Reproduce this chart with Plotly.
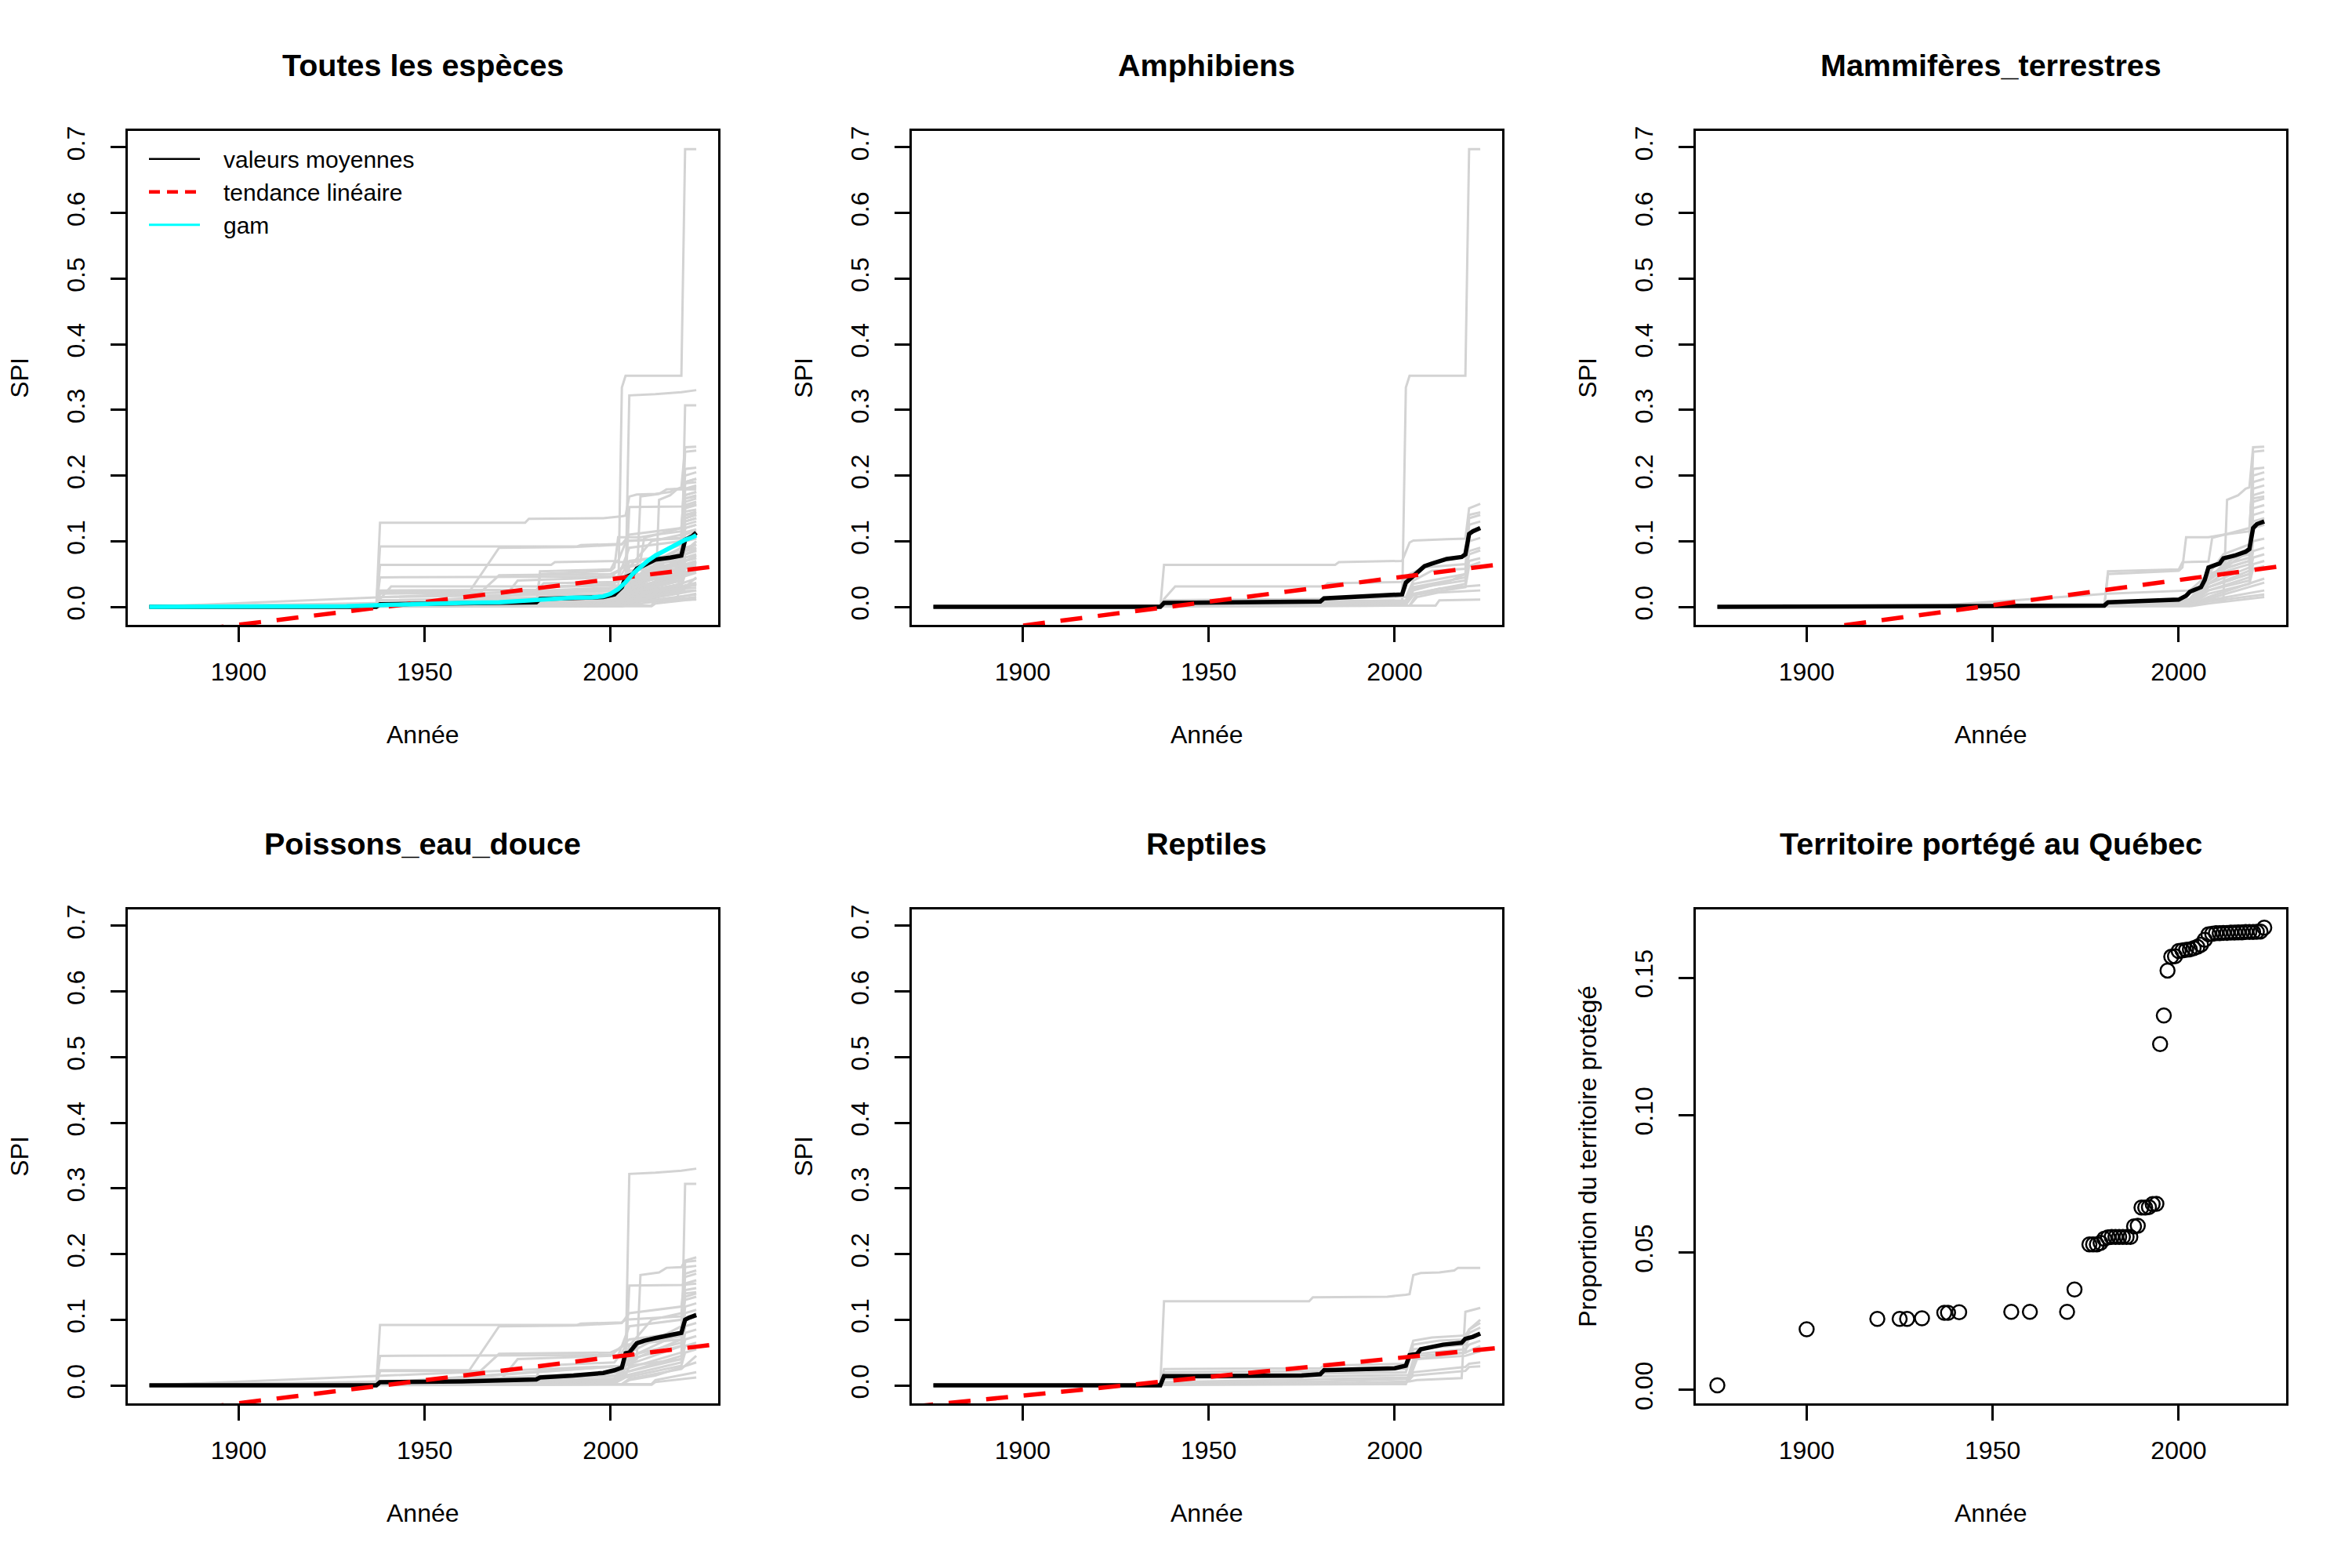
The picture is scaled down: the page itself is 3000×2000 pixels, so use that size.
import plotly.graph_objects as go

# ---------------------------------------------------------------- data
YEAR_FIRST, YEAR_LAST = 1876, 2023

# Grey per-species SPI trajectories, knots (year, SPI)
AMPH_SPECIES = [
    [(1876, 0), (1937, 0), (1938, 0.064), (1984, 0.064), (1985, 0.068), (2002, 0.070), (2004, 0.098), (2005, 0.101), (2014, 0.103), (2019, 0.104), (2020, 0.150), (2023, 0.157)],
    [(1876, 0), (2002, 0.003), (2003, 0.334), (2004, 0.352), (2019, 0.352), (2020, 0.697), (2023, 0.697)],
    [(1876, 0), (1937, 0), (1938, 0.012), (1941, 0.031), (1981, 0.031), (1982, 0.036), (2002, 0.038), (2004, 0.050), (2008, 0.060), (2019, 0.065), (2020, 0.085), (2023, 0.090)],
    [(1876, 0), (1937, 0), (1938, 0.010), (1981, 0.012), (2003, 0.015), (2005, 0.040), (2010, 0.055), (2019, 0.058), (2020, 0.140), (2023, 0.144)],
    [(1876, 0), (1937, 0), (1938, 0.005), (1981, 0.008), (2003, 0.010), (2005, 0.035), (2019, 0.050), (2020, 0.135), (2023, 0.140)],
    [(1876, 0), (1980, 0.002), (1981, 0.006), (2003, 0.008), (2005, 0.030), (2019, 0.045), (2020, 0.125), (2023, 0.130)],
    [(1876, 0), (1937, 0), (1938, 0.003), (2003, 0.006), (2005, 0.025), (2015, 0.040), (2019, 0.050), (2020, 0.080), (2023, 0.086)],
    [(1876, 0), (2003, 0.004), (2005, 0.020), (2019, 0.035), (2020, 0.070), (2023, 0.074)],
    [(1876, 0), (2003, 0.003), (2005, 0.018), (2019, 0.030), (2020, 0.062), (2023, 0.068)],
    [(1876, 0), (2004, 0.002), (2006, 0.020), (2012, 0.028), (2023, 0.033)],
    [(1876, 0), (2004, 0.002), (2006, 0.015), (2012, 0.022), (2023, 0.025)],
    [(1876, 0), (2011, 0.002), (2012, 0.010), (2023, 0.011)],
    [(1876, 0), (1981, 0.004), (2003, 0.006), (2005, 0.028), (2019, 0.040), (2020, 0.100), (2023, 0.105)],
]

MAMM_SPECIES = [
    [(1876, 0), (1980, 0.001), (1981, 0.054), (2000, 0.057), (2001, 0.068), (2008, 0.069), (2009, 0.105), (2019, 0.120), (2020, 0.200), (2023, 0.205)],
    [(1876, 0), (1980, 0.001), (1981, 0.050), (2000, 0.055), (2001, 0.060), (2002, 0.106), (2008, 0.106), (2012, 0.110), (2019, 0.115), (2020, 0.210), (2023, 0.212)],
    [(1876, 0), (1981, 0.004), (2012, 0.010), (2013, 0.163), (2016, 0.170), (2018, 0.180), (2019, 0.182), (2020, 0.243), (2023, 0.244)],
    [(1876, 0), (1981, 0.005), (2003, 0.012), (2008, 0.050), (2012, 0.080), (2019, 0.095), (2020, 0.236), (2023, 0.238)],
    [(1876, 0), (1981, 0.004), (2003, 0.010), (2008, 0.045), (2015, 0.075), (2019, 0.090), (2020, 0.190), (2023, 0.195)],
    [(1876, 0), (1981, 0.004), (2003, 0.010), (2008, 0.040), (2015, 0.070), (2019, 0.085), (2020, 0.180), (2023, 0.185)],
    [(1876, 0), (1981, 0.003), (2003, 0.009), (2008, 0.040), (2013, 0.072), (2019, 0.080), (2020, 0.170), (2023, 0.175)],
    [(1876, 0), (1981, 0.003), (2003, 0.008), (2007, 0.035), (2013, 0.065), (2019, 0.075), (2020, 0.160), (2023, 0.165)],
    [(1876, 0), (1981, 0.003), (2003, 0.008), (2008, 0.040), (2013, 0.060), (2019, 0.070), (2020, 0.150), (2023, 0.155)],
    [(1876, 0), (1981, 0.002), (2003, 0.006), (2008, 0.035), (2013, 0.055), (2019, 0.065), (2020, 0.140), (2023, 0.145)],
    [(1876, 0), (1981, 0.002), (2003, 0.006), (2008, 0.035), (2019, 0.060), (2020, 0.130), (2023, 0.135)],
    [(1876, 0), (1981, 0.002), (2003, 0.006), (2008, 0.030), (2019, 0.055), (2020, 0.120), (2023, 0.125)],
    [(1876, 0), (1981, 0.002), (2003, 0.005), (2008, 0.030), (2019, 0.050), (2020, 0.100), (2023, 0.104)],
    [(1876, 0), (1981, 0.002), (2003, 0.005), (2008, 0.030), (2019, 0.050), (2020, 0.085), (2023, 0.090)],
    [(1876, 0), (1981, 0.002), (2003, 0.005), (2008, 0.025), (2019, 0.045), (2020, 0.075), (2023, 0.080)],
    [(1876, 0), (1981, 0.002), (2003, 0.004), (2008, 0.025), (2019, 0.040), (2020, 0.065), (2023, 0.070)],
    [(1876, 0), (1981, 0.002), (2003, 0.004), (2008, 0.020), (2019, 0.035), (2020, 0.058), (2023, 0.062)],
    [(1876, 0), (1981, 0.001), (2003, 0.003), (2008, 0.015), (2023, 0.043)],
    [(1876, 0), (1981, 0.001), (2003, 0.003), (2008, 0.012), (2023, 0.037)],
    [(1876, 0), (2003, 0.002), (2008, 0.010), (2023, 0.025)],
    [(1876, 0), (2003, 0.002), (2008, 0.008), (2023, 0.019)],
    [(1876, 0), (2003, 0.001), (2008, 0.005), (2023, 0.015)],
    [(1876, 0), (1937, 0), (1938, 0.003), (1981, 0.020), (2003, 0.025), (2008, 0.050), (2019, 0.070), (2020, 0.165), (2023, 0.168)],
]

POIS_SPECIES = [
    [(1876, 0), (1937, 0), (1938, 0.092), (1991, 0.092), (1992, 0.094), (2003, 0.096), (2004, 0.100), (2019, 0.105), (2020, 0.130), (2023, 0.135)],
    [(1876, 0), (1937, 0), (1938, 0.023), (1962, 0.023), (1970, 0.090), (1990, 0.091), (2003, 0.095), (2005, 0.110), (2019, 0.120), (2020, 0.170), (2023, 0.175)],
    [(1876, 0), (1937, 0), (1938, 0.045), (2002, 0.046), (2003, 0.060), (2005, 0.070), (2019, 0.080), (2020, 0.110), (2023, 0.115)],
    [(1876, 0), (1937, 0), (1938, 0.022), (1965, 0.022), (1970, 0.048), (2000, 0.050), (2002, 0.055), (2004, 0.062), (2019, 0.070), (2020, 0.100), (2023, 0.105)],
    [(1876, 0), (2004, 0.030), (2005, 0.322), (2012, 0.324), (2019, 0.327), (2023, 0.330)],
    [(1876, 0), (1937, 0), (1938, 0.004), (2004, 0.015), (2005, 0.030), (2019, 0.040), (2020, 0.307), (2023, 0.307)],
    [(1876, 0), (1937, 0), (1938, 0.004), (2004, 0.030), (2007, 0.040), (2008, 0.168), (2013, 0.172), (2015, 0.179), (2019, 0.180), (2020, 0.190), (2023, 0.195)],
    [(1876, 0), (1937, 0), (1938, 0.003), (2004, 0.030), (2005, 0.152), (2019, 0.153), (2023, 0.155)],
    [(1876, 0), (1937, 0), (1938, 0.003), (2003, 0.020), (2005, 0.040), (2019, 0.060), (2020, 0.188), (2023, 0.190)],
    [(1876, 0), (1937, 0), (1938, 0.003), (2003, 0.020), (2005, 0.045), (2019, 0.065), (2020, 0.180), (2023, 0.182)],
    [(1876, 0), (1937, 0), (1938, 0.002), (2003, 0.015), (2005, 0.060), (2011, 0.100), (2019, 0.110), (2020, 0.165), (2023, 0.170)],
    [(1876, 0), (1937, 0), (1938, 0.002), (2003, 0.015), (2005, 0.050), (2019, 0.090), (2020, 0.155), (2023, 0.160)],
    [(1876, 0), (1937, 0), (1938, 0.002), (2001, 0.010), (2004, 0.040), (2019, 0.080), (2020, 0.145), (2023, 0.148)],
    [(1876, 0), (1937, 0), (1938, 0.002), (2001, 0.010), (2004, 0.035), (2019, 0.070), (2020, 0.135), (2023, 0.140)],
    [(1876, 0), (1937, 0), (1938, 0.002), (2001, 0.010), (2004, 0.030), (2019, 0.060), (2020, 0.120), (2023, 0.125)],
    [(1876, 0), (2001, 0.008), (2004, 0.025), (2019, 0.050), (2020, 0.090), (2023, 0.095)],
    [(1876, 0), (2001, 0.006), (2004, 0.020), (2019, 0.045), (2020, 0.080), (2023, 0.085)],
    [(1876, 0), (2001, 0.005), (2004, 0.020), (2019, 0.040), (2020, 0.070), (2023, 0.075)],
    [(1876, 0), (2001, 0.004), (2004, 0.015), (2019, 0.035), (2020, 0.060), (2023, 0.065)],
    [(1876, 0), (2001, 0.003), (2004, 0.012), (2019, 0.030), (2020, 0.050), (2023, 0.055)],
    [(1876, 0), (2003, 0.002), (2005, 0.010), (2019, 0.025), (2023, 0.045)],
    [(1876, 0), (2003, 0.002), (2005, 0.008), (2012, 0.015), (2023, 0.035)],
    [(1876, 0), (2011, 0.002), (2012, 0.008), (2023, 0.020)],
    [(1876, 0), (2011, 0.001), (2012, 0.005), (2023, 0.012)],
    [(1876, 0), (1980, 0.010), (1981, 0.030), (2001, 0.035), (2003, 0.050), (2004, 0.060), (2019, 0.075), (2020, 0.100), (2023, 0.110)],
    [(1876, 0), (1970, 0.005), (1975, 0.040), (2000, 0.045), (2003, 0.060), (2005, 0.090), (2019, 0.100), (2020, 0.140), (2023, 0.142)],
]

REPT_SPECIES = [
    [(1876, 0), (1937, 0), (1938, 0.128), (1977, 0.128), (1978, 0.134), (1998, 0.135), (2003, 0.138), (2004, 0.139), (2005, 0.168), (2007, 0.171), (2012, 0.172), (2016, 0.175), (2017, 0.179), (2023, 0.179)],
    [(1876, 0), (1937, 0), (1938, 0.025), (1980, 0.026), (1981, 0.030), (2003, 0.033), (2005, 0.068), (2010, 0.073), (2019, 0.076), (2020, 0.085), (2023, 0.095)],
    [(1876, 0), (1937, 0), (1938, 0.020), (1981, 0.022), (2003, 0.025), (2005, 0.062), (2012, 0.068), (2019, 0.070), (2020, 0.080), (2023, 0.088)],
    [(1876, 0), (1937, 0), (1938, 0.015), (1981, 0.018), (2003, 0.020), (2005, 0.055), (2019, 0.062), (2020, 0.070), (2023, 0.078)],
    [(1876, 0), (1937, 0), (1938, 0.010), (1981, 0.014), (2004, 0.016), (2006, 0.048), (2019, 0.055), (2020, 0.062), (2023, 0.068)],
    [(1876, 0), (1937, 0), (1938, 0.005), (1981, 0.010), (2004, 0.012), (2006, 0.045), (2019, 0.050), (2023, 0.060)],
    [(1876, 0), (1937, 0), (1938, 0.003), (1981, 0.006), (2004, 0.010), (2006, 0.040), (2019, 0.045), (2023, 0.052)],
    [(1876, 0), (1981, 0.003), (2004, 0.006), (2006, 0.008), (2018, 0.011), (2019, 0.112), (2023, 0.118)],
    [(1876, 0), (1981, 0.002), (2003, 0.004), (2005, 0.020), (2019, 0.028), (2020, 0.033), (2023, 0.035)],
    [(1876, 0), (1981, 0.002), (2003, 0.003), (2005, 0.015), (2019, 0.022), (2020, 0.028), (2023, 0.029)],
    [(1876, 0), (2003, 0.002), (2005, 0.040), (2019, 0.050), (2020, 0.085), (2023, 0.100)],
]

# Mean SPI per group (black line), knots (year, SPI)
MEAN_TOUT = [(1876, 0), (1937, 0), (1938, 0.004), (1980, 0.007), (1981, 0.012), (1998, 0.015), (2001, 0.019), (2003, 0.030), (2004, 0.045), (2006, 0.050), (2007, 0.058), (2009, 0.064), (2012, 0.072), (2016, 0.075), (2019, 0.078), (2020, 0.102), (2022, 0.108), (2023, 0.113)]
MEAN_AMPH = [(1876, 0), (1937, 0), (1938, 0.006), (1980, 0.008), (1981, 0.013), (1998, 0.0175), (2002, 0.019), (2003, 0.037), (2004, 0.042), (2006, 0.050), (2008, 0.062), (2010, 0.066), (2012, 0.070), (2014, 0.073), (2018, 0.076), (2019, 0.080), (2020, 0.111), (2021, 0.115), (2023, 0.120)]
MEAN_MAMM = [(1876, 0), (1937, 0), (1938, 0.001), (1980, 0.002), (1981, 0.007), (2000, 0.011), (2002, 0.017), (2003, 0.023), (2005, 0.027), (2006, 0.030), (2007, 0.041), (2008, 0.060), (2010, 0.064), (2011, 0.066), (2012, 0.074), (2015, 0.078), (2018, 0.084), (2019, 0.088), (2020, 0.120), (2021, 0.126), (2023, 0.130)]
MEAN_POIS = [(1876, 0), (1937, 0), (1938, 0.005), (1960, 0.006), (1980, 0.009), (1981, 0.012), (1990, 0.015), (1998, 0.019), (2001, 0.023), (2003, 0.027), (2004, 0.049), (2005, 0.050), (2007, 0.064), (2009, 0.068), (2012, 0.072), (2018, 0.078), (2019, 0.080), (2020, 0.100), (2021, 0.103), (2023, 0.107)]
MEAN_REPT = [(1876, 0), (1937, 0), (1938, 0.014), (1975, 0.015), (1980, 0.017), (1981, 0.023), (2000, 0.026), (2003, 0.030), (2004, 0.046), (2006, 0.048), (2007, 0.055), (2010, 0.058), (2013, 0.062), (2018, 0.065), (2019, 0.071), (2021, 0.074), (2023, 0.079)]

# GAM smooth for all species (cyan)
GAM_YEARS = [1876, 1900, 1920, 1929, 1940, 1950, 1960, 1970, 1975, 1980, 1985, 1990, 1995, 1998, 2000, 2002, 2004, 2006, 2008, 2010, 2012, 2014, 2016, 2018, 2020, 2022, 2023]
GAM_VALUES = [0.0, 0.0, 0.0005, 0.001, 0.003, 0.005, 0.006, 0.007, 0.009, 0.011, 0.013, 0.014, 0.0145, 0.016, 0.020, 0.027, 0.0375, 0.0505, 0.0605, 0.0704, 0.078, 0.084, 0.090, 0.096, 0.102, 0.106, 0.109]

# Linear trend lines (red dashed), end points (year, SPI)
TREND_X = [1860, 2040]
TREND_TOUT = [-0.0550, 0.0699]
TREND_AMPH = [-0.0576, 0.0733]
TREND_MAMM = [-0.0664, 0.0715]
TREND_POIS = [-0.0552, 0.0708]
TREND_REPT = [-0.0383, 0.0639]

# Protected territory in Québec
QC_YEARS = [1876, 1900, 1919, 1925, 1927, 1931, 1937, 1938, 1941, 1955, 1960, 1970, 1972,
            1976, 1977, 1978, 1979, 1980, 1981, 1982, 1983, 1984, 1985, 1986, 1987, 1988, 1989,
            1990, 1991, 1992, 1993, 1994, 1995, 1996, 1997, 1998, 1999, 2000, 2001, 2002, 2003,
            2004, 2005, 2006, 2007, 2008, 2009, 2010, 2011, 2012, 2013, 2014, 2015, 2016, 2017,
            2018, 2019, 2020, 2021, 2022, 2023]
QC_PROP = [0.0016, 0.0220, 0.0258, 0.0258, 0.0258, 0.0260, 0.0280, 0.0280, 0.0282, 0.0284, 0.0284, 0.0284, 0.0365,
           0.0529, 0.0529, 0.0529, 0.0535, 0.0550, 0.0555, 0.0556, 0.0556, 0.0556, 0.0556, 0.0556, 0.0556, 0.0595, 0.0597,
           0.0663, 0.0663, 0.0665, 0.0676, 0.0677, 0.1258, 0.1362, 0.1526, 0.1576, 0.1578, 0.1597, 0.1599, 0.1601, 0.1603,
           0.1607, 0.1612, 0.1620, 0.1638, 0.1658, 0.1660, 0.1662, 0.1662, 0.1663, 0.1663, 0.1664, 0.1664, 0.1665, 0.1665,
           0.1666, 0.1666, 0.1666, 0.1667, 0.1668, 0.1682]

TITLES = ["Toutes les espèces", "Amphibiens", "Mammifères_terrestres",
          "Poissons_eau_douce", "Reptiles", "Territoire portégé au Québec"]
LEGEND_NAMES = ["valeurs moyennes", "tendance linéaire", "gam"]
X_TICKS = [1900, 1950, 2000]
SPI_TICKS = [0.0, 0.1, 0.2, 0.3, 0.4, 0.5, 0.6, 0.7]
SPI_TICKTEXT = ["0.0", "0.1", "0.2", "0.3", "0.4", "0.5", "0.6", "0.7"]
QC_TICKS = [0.0, 0.05, 0.10, 0.15]
QC_TICKTEXT = ["0.00", "0.05", "0.10", "0.15"]

# ---------------------------------------------------------------- styling
FONT = "Liberation Sans, Arial, Helvetica, sans-serif"
FS = 32
W, H = 3000, 2000
CELL = 1000
BOX_L, BOX_R, BOX_T, BOX_B = 162.6, 916.0, 162.0, 797.0
GREY = "#D3D3D3"


def join_lines(lines):
    xs, ys = [], []
    for ln in lines:
        xs += [p[0] for p in ln] + [None]
        ys += [p[1] for p in ln] + [None]
    return xs, ys


def r_range(lo, hi):
    pad = 0.04 * (hi - lo)
    return [lo - pad, hi + pad]


ALL_SPECIES = AMPH_SPECIES + MAMM_SPECIES + POIS_SPECIES + REPT_SPECIES
spi_max = max(p[1] for ln in ALL_SPECIES for p in ln)
X_RANGE = r_range(YEAR_FIRST, YEAR_LAST)
SPI_RANGE = r_range(0.0, spi_max)
QC_RANGE = r_range(min(QC_PROP), max(QC_PROP))

panels = [
    (ALL_SPECIES, MEAN_TOUT, TREND_TOUT),
    (AMPH_SPECIES, MEAN_AMPH, TREND_AMPH),
    (MAMM_SPECIES, MEAN_MAMM, TREND_MAMM),
    (POIS_SPECIES, MEAN_POIS, TREND_POIS),
    (REPT_SPECIES, MEAN_REPT, TREND_REPT),
]

fig = go.Figure()
layout = {}
annotations = []

for i in range(6):
    r, c = divmod(i, 3)
    xa = "x" if i == 0 else f"x{i+1}"
    ya = "y" if i == 0 else f"y{i+1}"
    xdom = [(c * CELL + BOX_L) / W, (c * CELL + BOX_R) / W]
    ydom = [1 - (r * CELL + BOX_B) / H, 1 - (r * CELL + BOX_T) / H]
    axis_common = dict(showgrid=False, zeroline=False, showline=True, mirror=True,
                       linecolor="black", linewidth=2.5, ticks="outside", ticklen=19,
                       tickwidth=2.5, tickcolor="black",
                       tickfont=dict(family=FONT, size=FS, color="black"))
    layout["xaxis" if i == 0 else f"xaxis{i+1}"] = dict(
        axis_common, domain=xdom, anchor=ya, range=X_RANGE,
        tickvals=X_TICKS, ticktext=[str(v) for v in X_TICKS], ticklabelstandoff=10)
    if i < 5:
        yextra = dict(range=SPI_RANGE, tickvals=SPI_TICKS, ticktext=SPI_TICKTEXT)
    else:
        yextra = dict(range=QC_RANGE, tickvals=QC_TICKS, ticktext=QC_TICKTEXT)
    layout["yaxis" if i == 0 else f"yaxis{i+1}"] = dict(
        axis_common, domain=ydom, anchor=xa, tickangle=-90, ticklabelstandoff=20, **yextra)

    cx = (c * CELL + (BOX_L + BOX_R) / 2) / W
    annotations.append(dict(text=f"<b>{TITLES[i]}</b>", x=cx, y=1 - (r * CELL + 78) / H,
                            xref="paper", yref="paper", showarrow=False,
                            xanchor="center", yanchor="middle",
                            font=dict(family=FONT, size=39.5, color="black")))
    annotations.append(dict(text="Année", x=cx, y=1 - (r * CELL + 937.5) / H,
                            xref="paper", yref="paper", showarrow=False,
                            xanchor="center", yanchor="middle",
                            font=dict(family=FONT, size=FS, color="black")))
    ytitle = "SPI" if i < 5 else "Proportion du territoire protégé"
    annotations.append(dict(text=ytitle, x=(c * CELL + 25.5) / W,
                            y=1 - (r * CELL + (BOX_T + BOX_B) / 2) / H,
                            xref="paper", yref="paper", showarrow=False, textangle=-90,
                            xanchor="center", yanchor="middle",
                            font=dict(family=FONT, size=FS, color="black")))

    if i < 5:
        species, mean, trend = panels[i]
        gx, gy = join_lines(species)
        fig.add_trace(go.Scatter(x=gx, y=gy, mode="lines", xaxis=xa, yaxis=ya,
                                 line=dict(color=GREY, width=3), showlegend=False,
                                 connectgaps=False, hoverinfo="skip"))
        fig.add_trace(go.Scatter(x=[p[0] for p in mean], y=[p[1] for p in mean],
                                 mode="lines", xaxis=xa, yaxis=ya,
                                 line=dict(color="black", width=5.5), showlegend=False))
        fig.add_trace(go.Scatter(x=TREND_X, y=trend, mode="lines", xaxis=xa, yaxis=ya,
                                 line=dict(color="red", width=5.5, dash="28px,20px"),
                                 showlegend=False))
        if i == 0:
            fig.add_trace(go.Scatter(x=GAM_YEARS, y=GAM_VALUES, mode="lines",
                                     xaxis=xa, yaxis=ya, line=dict(color="cyan", width=5.5),
                                     showlegend=False))
    else:
        fig.add_trace(go.Scatter(x=QC_YEARS, y=QC_PROP, mode="markers", xaxis=xa, yaxis=ya,
                                 marker=dict(symbol="circle-open", size=18, color="black",
                                             line=dict(width=2.5, color="black")),
                                 showlegend=False))

# legend entries
PAD = "\u00a0\u00a0\u00a0"
fig.add_trace(go.Scatter(x=[None], y=[None], mode="lines", name=PAD + LEGEND_NAMES[0],
                         line=dict(color="black", width=2.5)))
fig.add_trace(go.Scatter(x=[None], y=[None], mode="lines", name=PAD + LEGEND_NAMES[1],
                         line=dict(color="red", width=4.5, dash="14px,9px")))
fig.add_trace(go.Scatter(x=[None], y=[None], mode="lines", name=PAD + LEGEND_NAMES[2],
                         line=dict(color="cyan", width=3)))

fig.update_layout(
    width=W, height=H, margin=dict(l=0, r=0, t=0, b=0),
    paper_bgcolor="white", plot_bgcolor="white",
    font=dict(family=FONT, size=FS, color="black"),
    annotations=annotations,
    showlegend=True,
    legend=dict(x=185 / W, y=1 - 172 / H, xanchor="left", yanchor="top",
                bgcolor="rgba(0,0,0,0)", borderwidth=0, itemwidth=65,
                font=dict(family=FONT, size=30, color="black"),
                tracegroupgap=0),
    **layout,
)

fig.write_html("out.html")
